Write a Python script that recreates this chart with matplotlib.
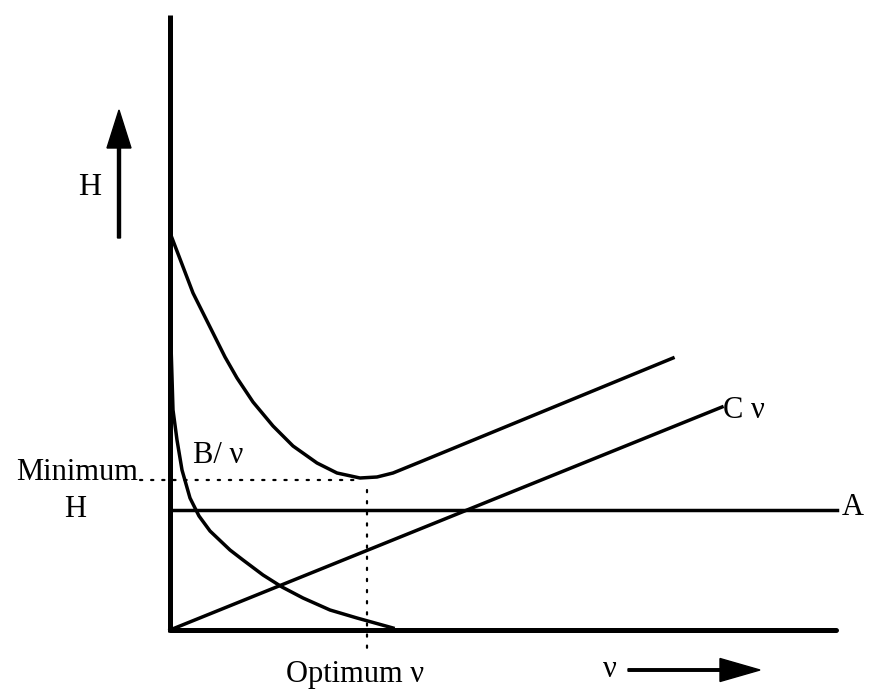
import matplotlib
matplotlib.use('Agg')
import matplotlib.pyplot as plt

plt.rcParams['font.family'] = ['Liberation Serif', 'DejaVu Serif']

# ---- data (x = velocity nu, y = plate height H) ----
# B/nu term
bv_x = [0.01, 0.03, 0.07, 0.12, 0.20, 0.29, 0.40, 0.60, 0.73, 0.93,
        1.12, 1.33, 1.60, 1.87, 2.23]
bv_y = [2.85, 2.20, 1.90, 1.60, 1.32, 1.14, 0.99, 0.80, 0.70, 0.55,
        0.43, 0.32, 0.20, 0.12, 0.02]
# total H curve
h_x = [0.02, 0.23, 0.43, 0.55, 0.67, 0.83, 1.03, 1.23, 1.47, 1.67,
       1.90, 2.07, 2.23, 2.50, 5.03]
h_y = [3.92, 3.37, 2.97, 2.73, 2.52, 2.28, 2.04, 1.84, 1.67, 1.57,
       1.52, 1.53, 1.57, 1.68, 2.72]
# A term (constant) and C nu term (straight line)
a_x = [0.0, 6.67]
a_y = [1.20, 1.20]
c_x = [0.0, 5.52]
c_y = [0.0, 2.23]
# minimum of H / optimum velocity
h_min = 1.50
v_opt = 1.97

fig = plt.figure(figsize=(8.7, 6.92), dpi=100)
ax = fig.add_axes([0, 0, 1, 1])
ax.set_xlim(-1.70, 7.0)
ax.set_ylim(-0.62, 6.30)
ax.axis('off')

# axes of the sketch
ax.plot([0, 0], [-0.02, 6.15], color='black', lw=3.6, solid_capstyle='butt')
ax.plot([0, 6.66], [0, 0], color='black', lw=3.6, solid_capstyle='round')

# curves
lw = 2.5
ax.plot(h_x, h_y, color='black', lw=lw, solid_joinstyle='round')
ax.plot(bv_x, bv_y, color='black', lw=lw, solid_joinstyle='round')
ax.plot(a_x, a_y, color='black', lw=lw)
ax.plot(c_x, c_y, color='black', lw=lw)

# dotted guide lines
ax.plot([-0.30, v_opt - 0.05], [h_min, h_min], color='black', lw=1.6,
        linestyle=(0, (1, 4)), dash_capstyle='round')
ax.plot([v_opt, v_opt], [h_min - 0.10, -0.22], color='black', lw=1.6,
        linestyle=(0, (1, 4)), dash_capstyle='round')

# arrows
ax.arrow(-0.51, 3.92, 0, 1.28, width=0.03, head_width=0.24, head_length=0.38,
         length_includes_head=True, color='black')
ax.arrow(4.58, -0.40, 1.32, 0, width=0.025, head_width=0.23, head_length=0.40,
         length_includes_head=True, color='black')

fs = 22
ax.text(-0.80, 4.42, 'H', fontsize=23, ha='center', va='center')
ax.text(-0.93, 1.50, 'Minimum', fontsize=fs, ha='center', va='baseline')
ax.text(-0.95, 1.13, 'H', fontsize=fs, ha='center', va='baseline')
ax.text(0.23, 1.67, 'B/ ν', fontsize=fs, ha='left', va='baseline')
ax.text(1.85, -0.52, 'Optimum ν', fontsize=fs, ha='center', va='baseline')
ax.text(4.33, -0.47, 'ν', fontsize=fs, ha='left', va='baseline')
ax.text(5.53, 2.12, 'C ν', fontsize=fs, ha='left', va='baseline')
ax.text(6.72, 1.15, 'A', fontsize=fs, ha='left', va='baseline')

fig.savefig('out.png', dpi=100)
